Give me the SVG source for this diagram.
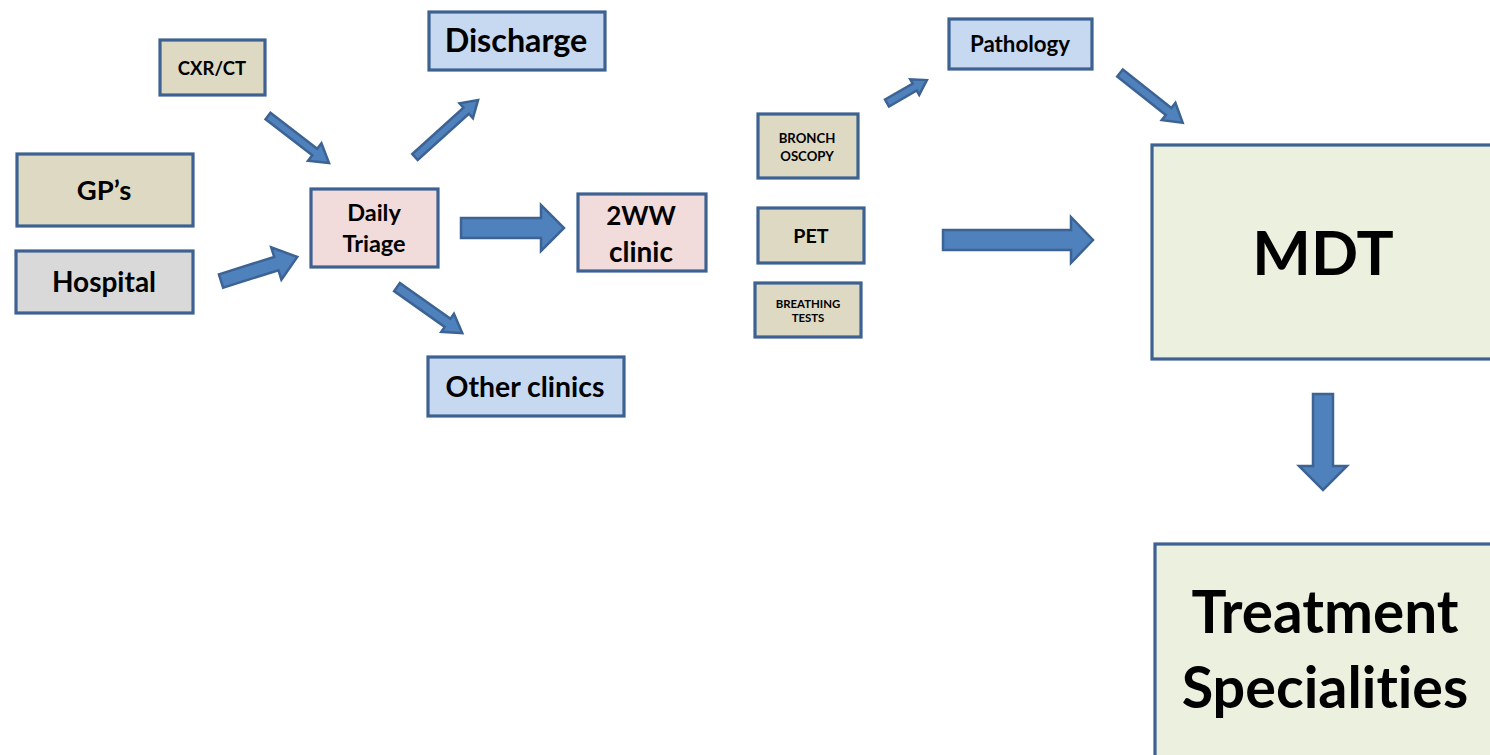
<svg xmlns="http://www.w3.org/2000/svg" width="1490" height="755" viewBox="0 0 1490 755">
  <style>
    .box { stroke: #3d6191; stroke-width: 3.2; }
    .tan { fill: #ddd9c3; }
    .blue { fill: #c6d9f1; }
    .pink { fill: #f2dcdb; }
    .grey { fill: #d9d9d9; }
    .green { fill: #ebf1de; }
    text { font-family: Lato, "Open Sans", "Liberation Sans", sans-serif; font-weight: bold; fill: #000; text-anchor: middle; font-variant-ligatures: none; }
    .arrow { fill: #4f81bd; stroke: #3c6394; stroke-width: 2.5; stroke-linejoin: miter; }
  </style>
  <rect width="1490" height="755" fill="#fff"/>

  <!-- block arrows -->
  <g id="connectors">
    <!-- CXR/CT to Daily Triage -->
    <path class="arrow" transform="translate(268,116) rotate(37.6)" d="M0,-4 L59,-4 L59,-11 L77,0 L59,11 L59,4 L0,4 Z"/>
    <!-- Daily Triage to Discharge -->
    <path class="arrow" transform="translate(415,157) rotate(-42.1)" d="M0,-4 L69,-4 L69,-10 L85,0 L69,10 L69,4 L0,4 Z"/>
    <!-- Hospital to Daily Triage -->
    <path class="arrow" transform="translate(221,281) rotate(-17.5)" d="M0,-7 L58,-7 L58,-17 L80,0 L58,17 L58,7 L0,7 Z"/>
    <!-- Daily Triage to Other clinics -->
    <path class="arrow" transform="translate(397,287) rotate(35.3)" d="M0,-5 L62,-5 L62,-11 L80,0 L62,11 L62,5 L0,5 Z"/>
    <!-- Daily Triage to 2WW clinic -->
    <path class="arrow" d="M461,218 L541,218 L541,205 L564,228 L541,251 L541,238 L461,238 Z"/>
    <!-- BRONCHOSCOPY to Pathology -->
    <path class="arrow" transform="translate(887,103) rotate(-29.9)" d="M0,-4 L32,-4 L32,-9 L46,0 L32,9 L32,4 L0,4 Z"/>
    <!-- Pathology to MDT -->
    <path class="arrow" transform="translate(1120,73) rotate(38.4)" d="M0,-4.5 L62,-4.5 L62,-11 L80,0 L62,11 L62,4.5 L0,4.5 Z"/>
    <!-- tests to MDT -->
    <path class="arrow" d="M943,230 L1071,230 L1071,217 L1093,240 L1071,263 L1071,250 L943,250 Z"/>
    <!-- MDT to Treatment Specialities -->
    <path class="arrow" d="M1313,394 L1333,394 L1333,466 L1347,466 L1323,490 L1299,466 L1313,466 Z"/>
  </g>

  <g id="cxr-ct">
    <rect class="box tan" x="160" y="40" width="105" height="55"/>
    <text x="212" y="75" font-size="18.5">CXR/CT</text>
  </g>
  <g id="discharge">
    <rect class="box blue" x="429" y="12" width="176" height="58"/>
    <text x="516" y="52" font-size="32.3">Discharge</text>
  </g>
  <g id="gps">
    <rect class="box tan" x="17" y="154" width="176" height="72"/>
    <text x="104" y="200" font-size="27.5">GP’s</text>
  </g>
  <g id="hospital">
    <rect class="box grey" x="16" y="251" width="177" height="62"/>
    <text x="104" y="292" font-size="28">Hospital</text>
  </g>
  <g id="daily-triage">
    <rect class="box pink" x="311" y="189" width="127" height="78"/>
    <text x="374" y="221" font-size="23.5">Daily</text>
    <text x="374" y="252" font-size="23.5">Triage</text>
  </g>
  <g id="two-week-wait-clinic">
    <rect class="box pink" x="578" y="194" width="128" height="77"/>
    <text x="641" y="225" font-size="26">2WW</text>
    <text x="641" y="262" font-size="28">clinic</text>
  </g>
  <g id="other-clinics">
    <rect class="box blue" x="428" y="357" width="196" height="59"/>
    <text x="525" y="397" font-size="28.4">Other clinics</text>
  </g>
  <g id="pathology">
    <rect class="box blue" x="949" y="19" width="143" height="50"/>
    <text x="1020" y="52" font-size="22.3">Pathology</text>
  </g>
  <g id="bronchoscopy">
    <rect class="box tan" x="758" y="114" width="100" height="64"/>
    <text x="807" y="143" font-size="13.2">BRONCH</text>
    <text x="807" y="161" font-size="13.2">OSCOPY</text>
  </g>
  <g id="pet">
    <rect class="box tan" x="758" y="208" width="106" height="55"/>
    <text x="811" y="243" font-size="19.7">PET</text>
  </g>
  <g id="breathing-tests">
    <rect class="box tan" x="755" y="283" width="106" height="54"/>
    <text x="808" y="308" font-size="11.4">BREATHING</text>
    <text x="808" y="322" font-size="11.4">TESTS</text>
  </g>
  <g id="mdt">
    <rect class="box green" x="1152" y="145" width="345" height="214"/>
    <text x="1323" y="275" font-size="62">MDT</text>
  </g>
  <g id="treatment-specialities">
    <rect class="box green" x="1155" y="544" width="345" height="220"/>
    <text x="1325" y="633" font-size="58.5">Treatment</text>
    <text x="1325" y="708" font-size="57.5">Specialities</text>
  </g>
</svg>
